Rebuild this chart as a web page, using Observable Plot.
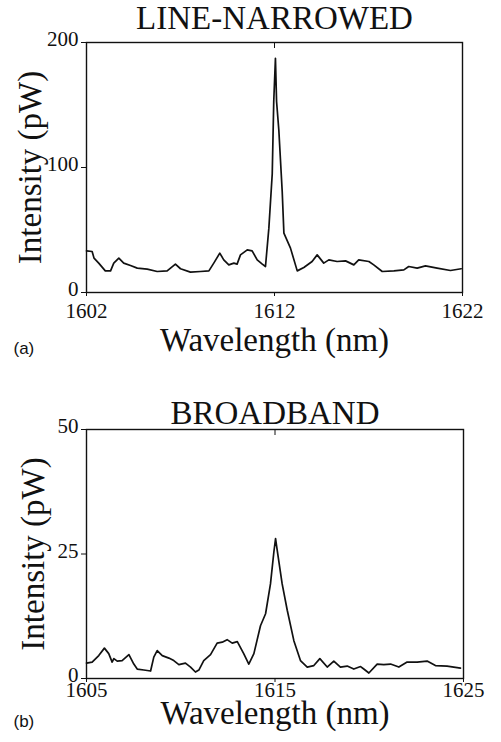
<!DOCTYPE html>
<html>
<head>
<meta charset="utf-8">
<script src="https://cdn.jsdelivr.net/npm/d3@7"></script>
<script src="https://cdn.jsdelivr.net/npm/@observablehq/plot@0.6"></script>
<style>
  html, body { margin: 0; padding: 0; background: #fff; }
  #chart svg { display: block; }
</style>
</head>
<body>
<div id="chart"></div>
<script>
// ---- Panel (a): line-narrowed ----
const titleA = "LINE-NARROWED";
const panelA = "(a)";
const xTicksA = [1602, 1612, 1622];
const yTicksA = [0, 100, 200];
const wavelengthA = [1602.0, 1602.3, 1602.4, 1602.65, 1603.0, 1603.28, 1603.45, 1603.72, 1603.98, 1604.34, 1604.7, 1605.23, 1605.76, 1606.29, 1606.73, 1607.0, 1607.53, 1608.06, 1608.51, 1608.77, 1609.09, 1609.3, 1609.57, 1609.84, 1610.01, 1610.19, 1610.55, 1610.81, 1611.08, 1611.35, 1611.52, 1611.7, 1611.88, 1611.96, 1612.05, 1612.11, 1612.23, 1612.41, 1612.5, 1612.85, 1613.21, 1613.56, 1614.0, 1614.27, 1614.62, 1614.89, 1615.33, 1615.78, 1616.22, 1616.48, 1617.02, 1617.28, 1617.73, 1618.35, 1618.88, 1619.14, 1619.59, 1620.03, 1620.65, 1621.36, 1621.93];
const intensityA = [33.3, 32.8, 27.5, 23.5, 17.3, 17.3, 23.5, 27.5, 23.5, 21.6, 19.5, 18.7, 16.8, 17.3, 22.7, 19, 16.3, 16.8, 17.3, 23.5, 31.5, 26.1, 22.1, 23.5, 22.7, 30.1, 34.1, 33.3, 26.1, 22.7, 20.8, 51.5, 95, 152.8, 187.4, 152.8, 130, 80.8, 47.5, 35.5, 17.3, 20, 24.8, 30.1, 23.5, 26.1, 24.8, 25.3, 22.1, 26.1, 24.8, 22.1, 16.8, 17.3, 18.1, 20.8, 19.5, 21.3, 19.5, 17.6, 19];

// ---- Panel (b): broadband ----
const titleB = "BROADBAND";
const panelB = "(b)";
const xTicksB = [1605, 1615, 1625];
const yTicksB = [0, 25, 50];
const wavelengthB = [1605.0, 1605.3, 1605.65, 1605.95, 1606.18, 1606.36, 1606.45, 1606.63, 1606.89, 1607.25, 1607.51, 1607.69, 1608.04, 1608.4, 1608.57, 1608.75, 1609.02, 1609.37, 1609.63, 1609.9, 1610.25, 1610.52, 1610.78, 1610.96, 1611.22, 1611.58, 1611.93, 1612.2, 1612.46, 1612.73, 1613.0, 1613.34, 1613.61, 1613.88, 1614.23, 1614.5, 1614.76, 1614.94, 1615.03, 1615.12, 1615.38, 1615.65, 1616.0, 1616.35, 1616.71, 1617.06, 1617.38, 1617.77, 1618.12, 1618.47, 1618.83, 1619.18, 1619.54, 1619.71, 1619.98, 1620.42, 1620.77, 1621.13, 1621.57, 1622.01, 1622.54, 1623.07, 1623.51, 1624.13, 1624.84];
const intensityB = [3.1, 3.3, 4.6, 6.1, 5.0, 3.3, 4.0, 3.5, 3.6, 4.8, 2.9, 1.9, 1.7, 1.5, 4.3, 5.6, 4.6, 4.1, 3.6, 2.8, 3.1, 2.3, 1.3, 1.7, 3.6, 4.8, 7.1, 7.3, 7.8, 7.1, 7.4, 5.0, 2.9, 5.0, 10.6, 13.0, 19.0, 25.4, 28.1, 25.7, 19.0, 13.7, 7.6, 3.6, 2.3, 2.6, 4.0, 2.3, 3.5, 2.3, 2.5, 1.9, 2.4, 1.9, 1.1, 2.9, 2.8, 2.9, 2.3, 3.3, 3.3, 3.5, 2.6, 2.5, 2.1];

const xLabel = "Wavelength (nm)";
const yLabel = "Intensity (pW)";

const serif = "Liberation Serif";
const sans = "Liberation Sans";
const ink = "#111";

function panel(opts) {
  const data = opts.w.map((w, k) => ({w, i: opts.i[k]}));
  return Plot.plot({
    width: 501,
    height: opts.height,
    marginLeft: 86,
    marginRight: opts.marginRight,
    marginTop: opts.marginTop,
    marginBottom: opts.marginBottom,
    style: {fontFamily: serif, fontSize: "21px", color: ink, background: "#fff"},
    x: {domain: opts.xDomain},
    y: {domain: opts.yDomain},
    marks: [
      Plot.frame({stroke: ink, strokeWidth: 1.4}),
      // tick marks (labels drawn below as serif text marks)
      Plot.axisX({ticks: opts.xTicks, tickSize: 4, tickFormat: () => "", label: null, stroke: ink}),
      Plot.axisX({anchor: "top", ticks: opts.xTicks, tickSize: -5, tickFormat: () => "", label: null, stroke: ink}),
      Plot.axisY({ticks: opts.yTicks, tickSize: 5, tickFormat: () => "", label: null, stroke: ink}),
      Plot.text(opts.xTicks, {x: d => d, text: d => String(d), frameAnchor: "bottom", dy: opts.xTickDy, lineAnchor: "top", textAnchor: "middle", fontSize: 21, fontFamily: serif, fill: ink}),
      Plot.text(opts.yTicks, {y: d => d, text: d => String(d), frameAnchor: "left", dx: -8, dy: -3, lineAnchor: "middle", textAnchor: "end", fontSize: 21, fontFamily: serif, fill: ink}),
      Plot.line(data, {x: "w", y: "i", stroke: ink, strokeWidth: 1.7}),
      Plot.text([opts.title], {frameAnchor: "top", dy: opts.titleDy, lineAnchor: "bottom", fontSize: 33, fontFamily: serif, fill: ink}),
      Plot.text([xLabel], {frameAnchor: "bottom", dy: opts.xLabelDy, lineAnchor: "bottom", fontSize: 33, fontFamily: serif, fill: ink}),
      Plot.text([yLabel], {frameAnchor: "left", dx: opts.yLabelDx, rotate: -90, textAnchor: "middle", lineAnchor: "bottom", fontSize: 33, fontFamily: serif, fill: ink}),
      Plot.text([opts.tag], {frameAnchor: "bottom-left", dx: -73, dy: opts.tagDy, textAnchor: "start", lineAnchor: "bottom", fontSize: 17, fontFamily: sans, fill: ink})
    ]
  });
}

const chart = document.getElementById("chart");
chart.append(panel({
  height: 370, marginTop: 42, marginBottom: 78, marginRight: 39,
  xDomain: [1602, 1622], yDomain: [0, 200], xTicks: xTicksA, yTicks: yTicksA,
  w: wavelengthA, i: intensityA, title: titleA, tag: panelA,
  xTickDy: 11, titleDy: -14, xLabelDy: 58, yLabelDx: -46, tagDy: 61
}));
chart.append(panel({
  height: 372, marginTop: 59, marginBottom: 64, marginRight: 38,
  xDomain: [1605, 1625], yDomain: [0, 50], xTicks: xTicksB, yTicks: yTicksB,
  w: wavelengthB, i: intensityB, title: titleB, tag: panelB,
  xTickDy: 4, titleDy: -6, xLabelDy: 45, yLabelDx: -43, tagDy: 48
}));
</script>
</body>
</html>
